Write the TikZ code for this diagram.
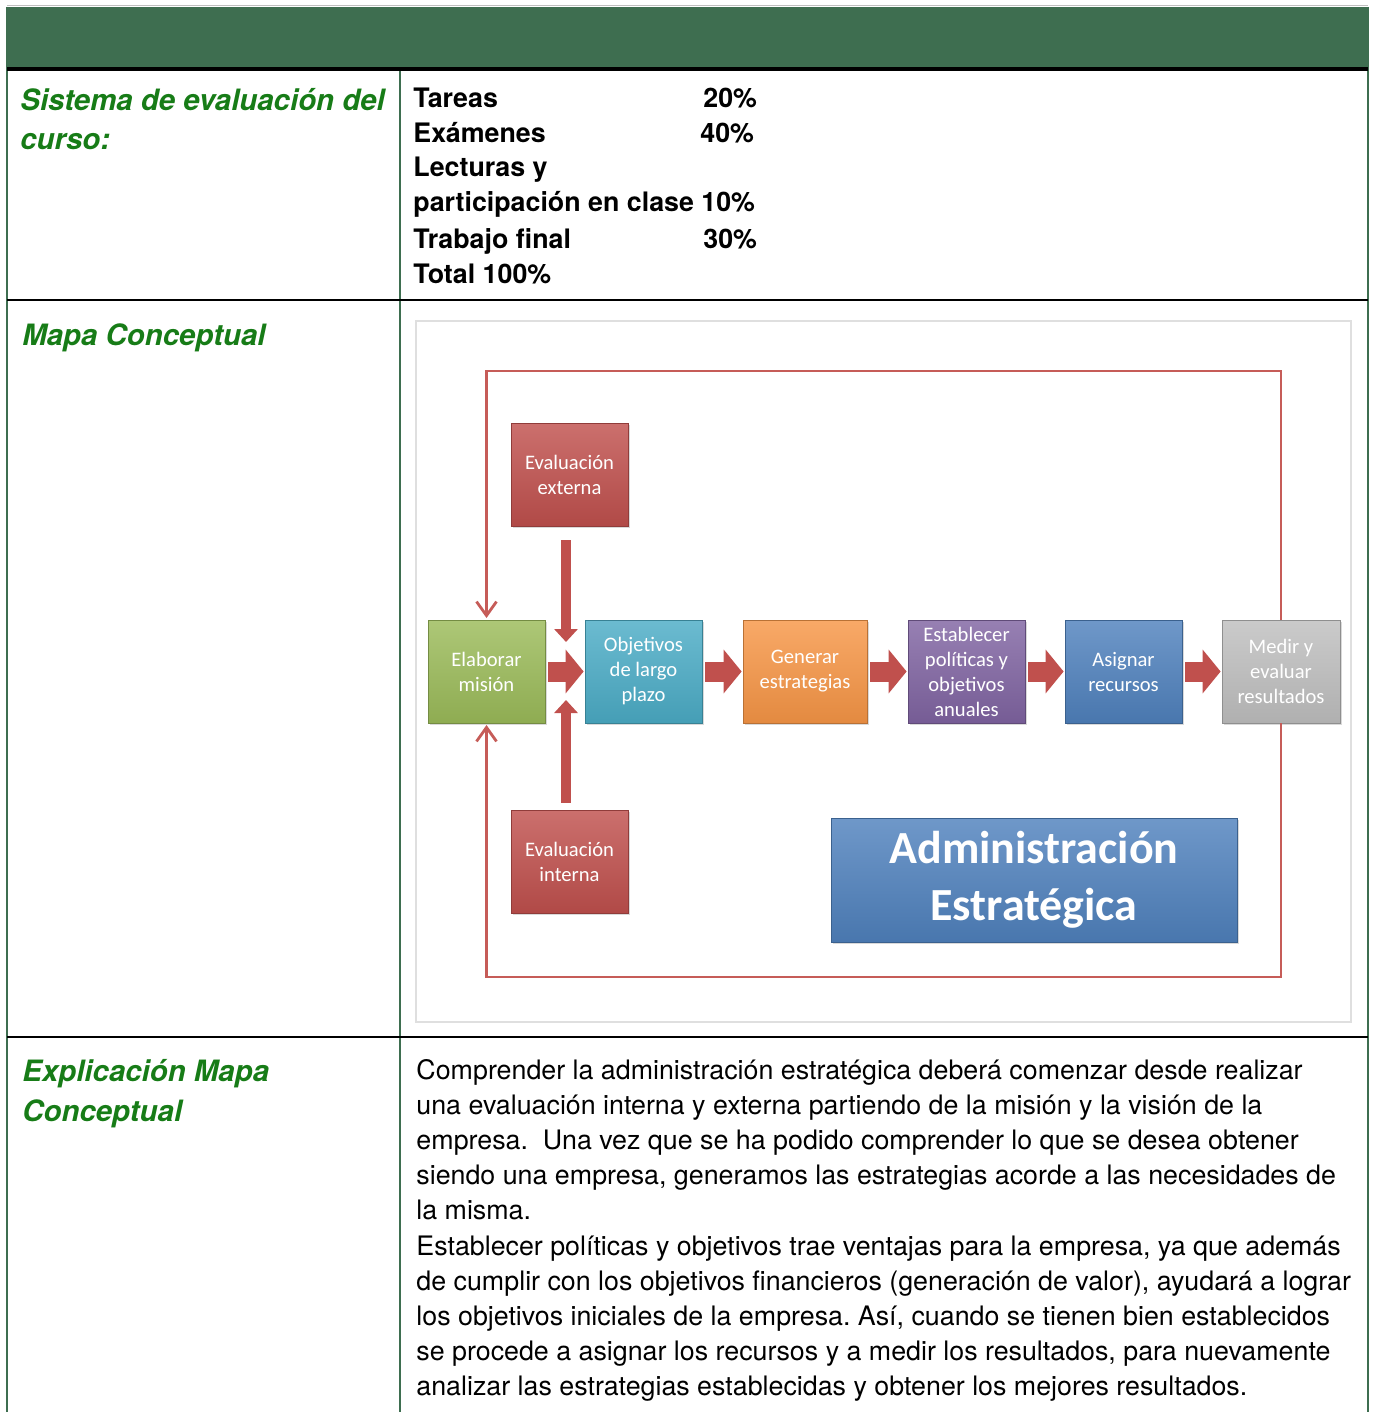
\documentclass[tikz,border=0pt]{standalone}
\usepackage{fontspec}
\setmainfont{TeX Gyre Heros}
\newfontfamily\mapfont{Carlito}
\usepackage{tikz}
\tikzset{>=latex}
\usetikzlibrary{shapes,arrows,arrows.meta}
\usetikzlibrary{calc}
\usetikzlibrary{shadows}

\definecolor{cabecera}{RGB}{62,110,80}
\definecolor{verdetxt}{RGB}{23,124,23}
\definecolor{rojomapa}{RGB}{192,80,77}
\definecolor{lazorojo}{RGB}{198,92,88}
\definecolor{verdecaja}{RGB}{155,187,89}
\definecolor{cyancaja}{RGB}{75,172,198}
\definecolor{naranjacaja}{RGB}{247,150,70}
\definecolor{moradocaja}{RGB}{128,100,162}
\definecolor{azulcaja}{RGB}{79,129,189}
\definecolor{griscaja}{RGB}{191,191,191}

\begin{document}
\frenchspacing
\begin{tikzpicture}[x=0.5pt,y=-0.5pt,
	etiqueta/.style={anchor=base west,inner sep=0pt,text=verdetxt,font=\bfseries\itshape\fontsize{14.7}{20}\selectfont},
	dato/.style={anchor=base west,inner sep=0pt,font=\bfseries\fontsize{13.4}{17.5}\selectfont},
	parrafo/.style={anchor=base west,inner sep=0pt,font=\fontsize{13.4}{17.5}\selectfont},
	caja/.style={draw=#1!75!black,line width=0.4pt,top color=#1!82!white,bottom color=#1!92!black,
		minimum width=58.5pt,minimum height=51.5pt,inner sep=0pt,align=center,text=white,
		font=\mapfont\fontsize{10.3}{12.5}\selectfont,
		drop shadow={opacity=0.3,shadow xshift=1pt,shadow yshift=-1.2pt}},
	lazo/.style={draw=lazorojo,line width=1.4pt,-{Straight Barb[length=7pt,width=10pt]}},
	flecha/.style={draw=rojomapa,line width=10pt,-{Triangle[length=9pt,width=21.5pt]}},
	flechav/.style={draw=rojomapa,line width=5.3pt,-{Triangle[length=6.5pt,width=11.5pt]}}]
	\useasboundingbox (0,0) rectangle (1372,1412);

	% tabla
	\fill[cabecera] (7,7) rectangle (1368,68);
	\draw[gray!50,line width=0.5pt] (7,6) -- (1368,6);
	\draw[cabecera,line width=1.2pt] (7,7) -- (7,1412);
	\draw[cabecera,line width=1.2pt] (1368,7) -- (1368,1412);
	\draw[cabecera,line width=1.2pt] (400,69) -- (400,1412);
	\draw[black,line width=1.6pt] (7,69) -- (1368,69);
	\draw[black,line width=1.2pt] (7,300) -- (1368,300);
	\draw[black,line width=1.2pt] (7,1037) -- (1368,1037);

	% columna izquierda
	\node[etiqueta] (sistema) at (20,111) {Sistema de evaluación del};
	\node[etiqueta] (curso) at (20,150) {curso:};
	\node[etiqueta] (mapa) at (22,345) {Mapa Conceptual};
	\node[etiqueta] (explic) at (22,1081) {Explicación Mapa};
	\node[etiqueta] (concep) at (22,1121) {Conceptual};

	% evaluacion
	\node[dato] (tareas) at (413,108) {Tareas};
	\node[dato] (ptareas) at (703,108) {20\%};
	\node[dato] (examenes) at (413,143) {Exámenes};
	\node[dato] (pexamenes) at (700,143) {40\%};
	\node[dato] (lecturas) at (413,177) {Lecturas y};
	\node[dato] (particip) at (413,212) {participación en clase 10\%};
	\node[dato] (trabajo) at (413,249) {Trabajo final};
	\node[dato] (ptrabajo) at (703,249) {30\%};
	\node[dato] (total) at (413,284) {Total 100\%};

	% mapa conceptual
	\draw[gray!25,line width=0.6pt] (416,321) rectangle (1351,1022);
	\node[caja=verdecaja] (mision) at (486.5,671.5) {Elaborar\\misión};
	\node[caja=cyancaja] (objetivos) at (643.5,671.5) {Objetivos\\de largo\\plazo};
	\node[caja=naranjacaja,minimum width=62pt] (generar) at (805,671.5) {Generar\\estrategias};
	\node[caja=moradocaja] (politicas) at (966.5,671.5) {Establecer\\políticas y\\objetivos\\anuales};
	\node[caja=azulcaja] (recursos) at (1123.5,671.5) {Asignar\\recursos};
	\node[caja=griscaja,minimum width=59pt] (medir) at (1281,671.5) {Medir y\\evaluar\\resultados};
	\node[caja=rojomapa] (externa) at (569.5,474.5) {Evaluación\\externa};
	\node[caja=rojomapa] (interna) at (569.5,861.5) {Evaluación\\interna};
	\node[caja=azulcaja,minimum width=203pt,minimum height=62pt,font=\mapfont\bfseries\fontsize{23}{28.5}\selectfont] (admin) at (1034,880) {Administración\\Estratégica};

	\draw[flecha,shorten <=1.5pt,shorten >=0.5pt] (mision) -- (objetivos);
	\draw[flecha,shorten <=1.5pt,shorten >=0.5pt] (objetivos) -- (generar);
	\draw[flecha,shorten <=1.5pt,shorten >=0.5pt] (generar) -- (politicas);
	\draw[flecha,shorten <=1.5pt,shorten >=0.5pt] (politicas) -- (recursos);
	\draw[flecha,shorten <=1.5pt,shorten >=0.5pt] (recursos) -- (medir);

	\coordinate (cruce) at (566,671.5);
	\draw[flechav,shorten <=7pt,shorten >=14.75pt] (externa.south -| cruce) -- (cruce);
	\draw[flechav,shorten <=3.5pt,shorten >=14.25pt] (interna.north -| cruce) -- (cruce);

	\coordinate (esqsup) at (486.5,371);
	\coordinate (esqinf) at (486.5,977);
	\draw[lazo,shorten >=0.8pt] (medir.north) |- (esqsup) -- (mision.north);
	\draw[lazo,shorten >=0.8pt] (medir.south) |- (esqinf) -- (mision.south);

	% explicacion
	\foreach \linea [count=\i from 0] in {
		{Comprender la administración estratégica deberá comenzar desde realizar},
		{una evaluación interna y externa partiendo de la misión y la visión de la},
		{empresa.\ \ Una vez que se ha podido comprender lo que se desea obtener},
		{siendo una empresa, generamos las estrategias acorde a las necesidades de},
		{la misma.},
		{Establecer políticas y objetivos trae ventajas para la empresa, ya que además},
		{de cumplir con los objetivos financieros (generación de valor), ayudará a lograr},
		{los objetivos iniciales de la empresa. Así, cuando se tienen bien establecidos},
		{se procede a asignar los recursos y a medir los resultados, para nuevamente},
		{analizar las estrategias establecidas y obtener los mejores resultados.}}
		\node[parrafo] (parr\i) at (416,1079+35.2*\i) {\linea};
\end{tikzpicture}
\end{document}
